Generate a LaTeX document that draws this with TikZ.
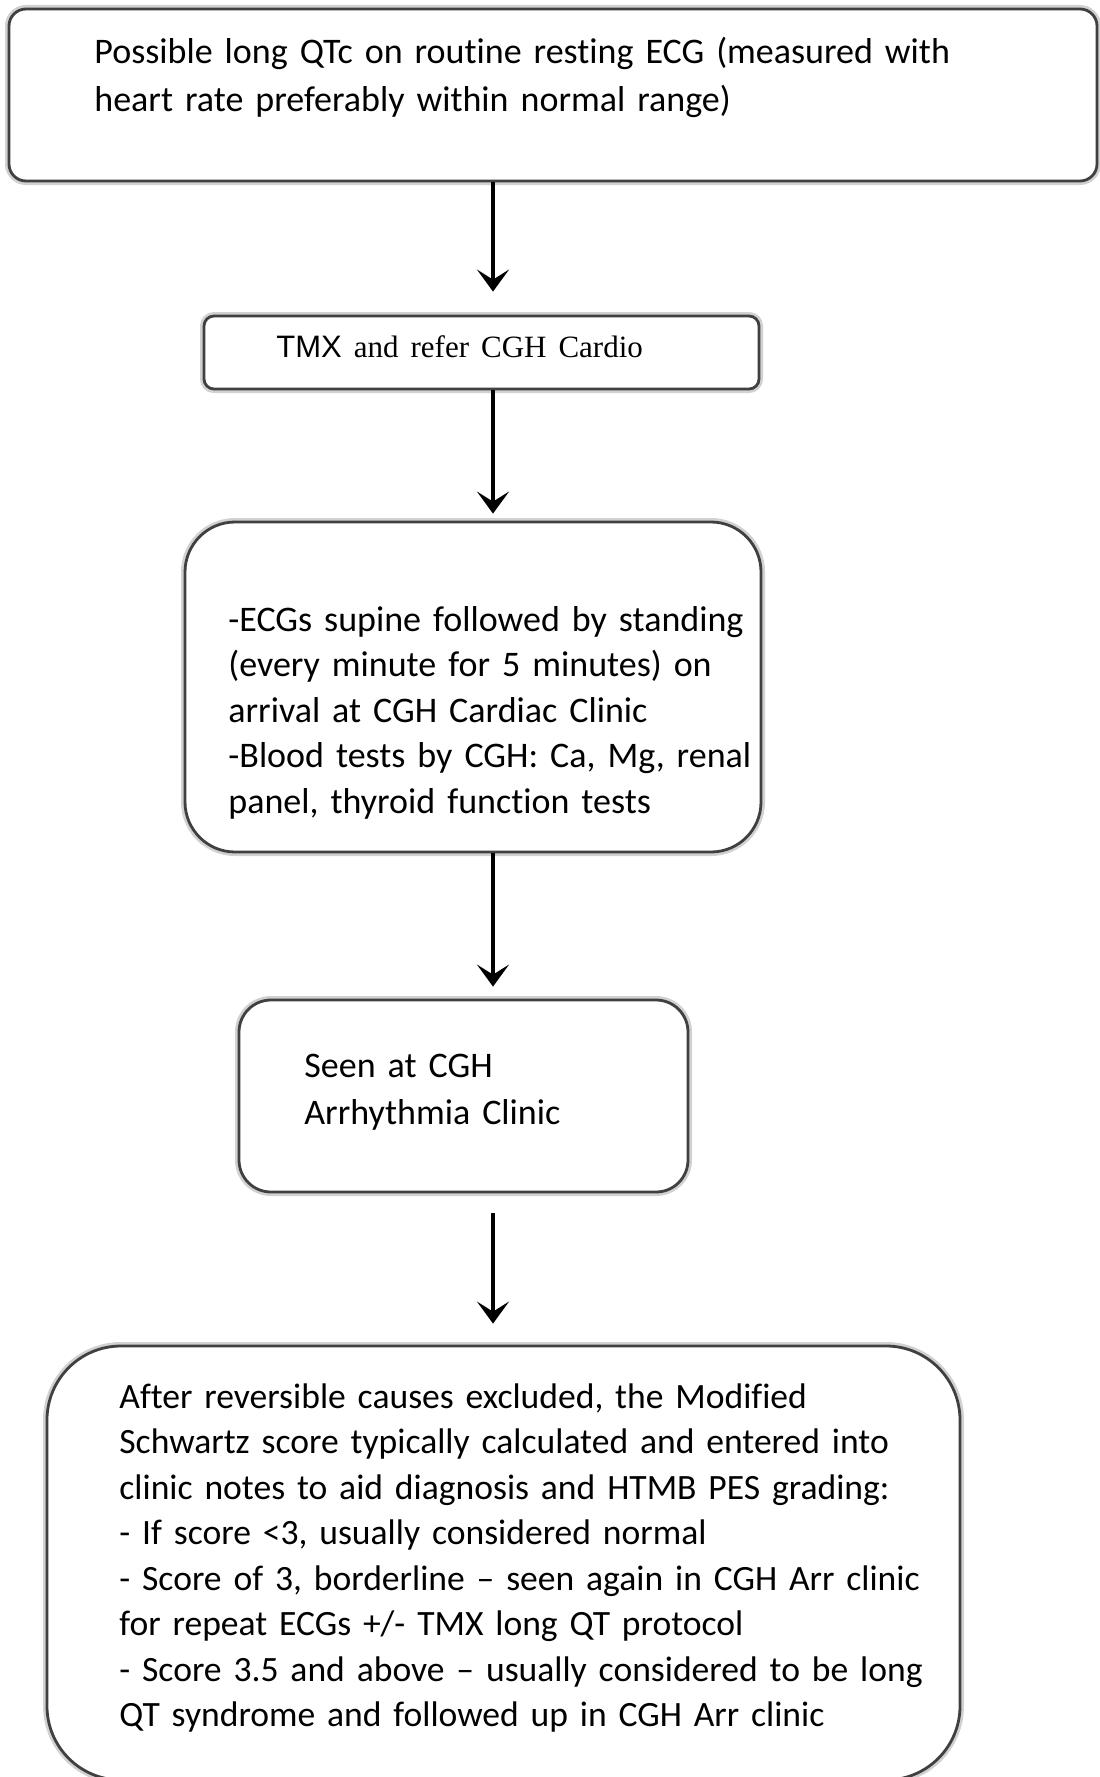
\documentclass[tikz,border=0pt]{standalone}
\usepackage{fontspec}
\setmainfont{Carlito}[Ligatures=NoCommon]
\newfontfamily\arialfont{Liberation Sans}
\newfontfamily\timesfont{Liberation Serif}
\usepackage{tikz}
\usetikzlibrary{arrows.meta,positioning}

\begin{document}
\begin{tikzpicture}[
		x=0.5pt, y=-0.5pt,
		>={Stealth[length=11pt, width=16pt, inset=5pt]},
		line/.style={->, line width=1.6pt, black},
		box/.style={draw=black!75, line width=1.4pt, fill=white,
			preaction={draw=black!18, line width=4pt}},
		txt/.style={anchor=base west, inner sep=0pt, align=left, text width=520pt,
			font=\fontsize{18}{22.75}\selectfont}
		]
		\useasboundingbox (0,0) rectangle (1099,1777);
		\coordinate (axis) at (493,0);
		
		% Flow boxes
		\node[box, rounded corners=8.5pt, minimum width=544pt, minimum height=86pt] (ecgBox) at (553,95) {};
		\node[box, rounded corners=5pt, minimum width=277.5pt, minimum height=36.5pt] (referBox) at (481.5,352.5) {};
		\node[box, rounded corners=25pt, minimum width=288pt, minimum height=165pt] (clinicBox) at (473,687) {};
		\node[box, rounded corners=16pt, minimum width=224.5pt, minimum height=96pt] (arrBox) at (463.5,1096) {};
		\node[box, rounded corners=37pt, minimum width=456.5pt, minimum height=217pt] (scoreBox) at (503.5,1563) {};
		
		% Box texts
		\node[txt, font=\fontsize{18}{23.8}\selectfont] (ecgText) at (94,64)
		{Possible long QTc on routine resting ECG (measured with\\heart rate preferably within normal range)};
		\node[txt] (referText) at (276,357)
		{{\arialfont\fontsize{15.5}{20}\selectfont TMX}{\timesfont\fontsize{15.5}{20}\selectfont{} and refer CGH Cardio}};
		\node[txt] (clinicText) at (228,631)
		{-ECGs supine followed by standing\\(every minute for 5 minutes) on\\arrival at CGH Cardiac Clinic\\-Blood tests by CGH: Ca, Mg, renal\\panel, thyroid function tests};
		\node[txt, font=\fontsize{18}{23.5}\selectfont] (arrText) at (304,1077)
		{Seen at CGH\\Arrhythmia Clinic};
		\node[txt, font=\fontsize{17.8}{22.75}\selectfont] (scoreText) at (119,1408)
		{After reversible causes excluded, the Modified\\Schwartz score typically calculated and entered into\\clinic notes to aid diagnosis and HTMB PES grading:\\- If score <3, usually considered normal\\- Score of 3, borderline – seen again in CGH Arr clinic\\for repeat ECGs +/- TMX long QT protocol\\- Score 3.5 and above – usually considered to be long\\QT syndrome and followed up in CGH Arr clinic};
		
		% Arrows down the flow
		\draw[line, shorten >=11.5pt] (ecgBox.south -| axis) -- (referBox.north -| axis);
		\draw[line, shorten >=3.5pt] (referBox.south -| axis) -- (clinicBox.north -| axis);
		\draw[line, shorten >=6pt] (clinicBox.south -| axis) -- (arrBox.north -| axis);
		\draw[line, shorten <=10pt, shorten >=10.5pt] (arrBox.south -| axis) -- (scoreBox.north -| axis);
	\end{tikzpicture}
\end{document}
